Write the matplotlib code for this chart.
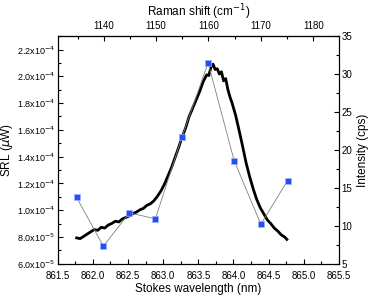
import numpy as np
import matplotlib
matplotlib.use("Agg")
import matplotlib.pyplot as plt
from matplotlib.ticker import MultipleLocator, FuncFormatter, FixedLocator

plt.rcParams['font.family'] = ['Liberation Sans', 'DejaVu Sans']

# SRL points (left axis)
srl_wl = [861.77, 862.15, 862.52, 862.89, 863.27, 863.64, 864.01, 864.39, 864.77]
srl_val = [1.095e-4, 7.3e-5, 9.8e-5, 9.35e-5, 1.55e-4, 2.10e-4, 1.37e-4, 8.95e-5, 1.22e-4]

# Raman intensity curve (right axis)
ram_wl = [861.77, 861.82, 861.87, 861.92, 861.97, 862.02, 862.07, 862.12, 862.17, 862.22,
          862.27, 862.32, 862.37, 862.42, 862.47, 862.52, 862.57, 862.62, 862.67, 862.72,
          862.77, 862.82, 862.87, 862.92, 862.97, 863.02, 863.07, 863.12, 863.17, 863.22,
          863.27, 863.32, 863.37, 863.42, 863.47, 863.52, 863.57, 863.62, 863.65, 863.68,
          863.71, 863.74, 863.77, 863.80, 863.83, 863.86, 863.89, 863.92, 863.95, 863.98,
          864.03, 864.08, 864.13, 864.18, 864.23, 864.28, 864.33, 864.38, 864.43, 864.48,
          864.53, 864.58, 864.63, 864.68, 864.73, 864.76]
ram_int = [8.4, 8.3, 8.6, 8.9, 9.2, 9.5, 9.4, 9.8, 9.7, 10.1,
           10.3, 10.6, 10.5, 10.9, 11.1, 11.3, 11.6, 11.8, 12.1, 12.3,
           12.7, 12.9, 13.3, 13.9, 14.6, 15.5, 16.6, 17.7, 19.0, 20.3,
           21.7, 22.9, 24.4, 25.5, 26.6, 27.7, 29.0, 29.9, 29.8, 30.9,
           31.3, 30.6, 30.7, 30.0, 30.3, 29.1, 29.4, 28.0, 27.0, 26.2,
           24.6, 22.6, 20.5, 18.3, 16.5, 14.9, 13.5, 12.4, 11.6, 10.8,
           10.3, 9.7, 9.3, 8.8, 8.5, 8.2]

PUMP = 1e7 / 785.0


def to_shift(wl):
    return PUMP - 1e7 / np.asarray(wl, dtype=float)


def to_wl(shift):
    return 1e7 / (PUMP - np.asarray(shift, dtype=float))


def sci_fmt(v, pos):
    e = int(np.floor(np.log10(v)))
    m = v / 10 ** e
    return r'%.1fx10$^{%d}$' % (m, e)


fig = plt.figure(figsize=(3.72, 3.01), dpi=100)
ax = fig.add_axes([0.155, 0.124, 0.756, 0.756])
ax2 = ax.twinx()

ax.plot(srl_wl, srl_val, color='#808080', lw=0.6, zorder=2)
ax.plot(srl_wl, srl_val, ls='none', marker='s', ms=4.5, mfc='#2350f5',
        mec='#9db0ff', mew=0.5, zorder=3)
ax2.plot(ram_wl, ram_int, color='black', lw=2.0, zorder=1)
ax.set_zorder(ax2.get_zorder() + 1)
ax.patch.set_visible(False)

ax.set_xlim(861.5, 865.5)
ax.set_ylim(6e-5, 2.3e-4)
ax2.set_ylim(5, 35)

ax.xaxis.set_major_locator(MultipleLocator(0.5))
ax.xaxis.set_minor_locator(MultipleLocator(0.25))
ax.xaxis.set_major_formatter(FuncFormatter(lambda v, p: '%.1f' % v))
ax.yaxis.set_major_locator(FixedLocator([6e-5, 8e-5, 1e-4, 1.2e-4, 1.4e-4, 1.6e-4,
                                         1.8e-4, 2.0e-4, 2.2e-4]))
ax.yaxis.set_minor_locator(MultipleLocator(1e-5))
ax.yaxis.set_major_formatter(FuncFormatter(sci_fmt))
ax2.yaxis.set_major_locator(MultipleLocator(5))
ax2.yaxis.set_minor_locator(MultipleLocator(2.5))

top = ax.secondary_xaxis('top', functions=(to_shift, to_wl))
top.xaxis.set_major_locator(FixedLocator([1140, 1150, 1160, 1170, 1180]))
top.xaxis.set_minor_locator(FixedLocator([1135, 1145, 1155, 1165, 1175, 1185]))

for a in (ax, ax2, top):
    a.tick_params(which='both', direction='in', labelsize=7, width=0.8, pad=2)
    a.tick_params(which='major', length=3.5)
    a.tick_params(which='minor', length=2)
ax.tick_params(axis='y', labelsize=6.5)
ax.tick_params(axis='x', pad=5)
top.tick_params(axis='x', pad=4)

ax.set_xlabel('Stokes wavelength (nm)', fontsize=8.5, labelpad=2)
ax.set_ylabel(r'SRL ($\mu$W)', fontsize=8.5, labelpad=1)
ax2.set_ylabel('Intensity (cps)', fontsize=8.5, labelpad=3)
top.set_xlabel(r'Raman shift (cm$^{-1}$)', fontsize=8.5, labelpad=3)

fig.savefig('out.png', dpi=100)
